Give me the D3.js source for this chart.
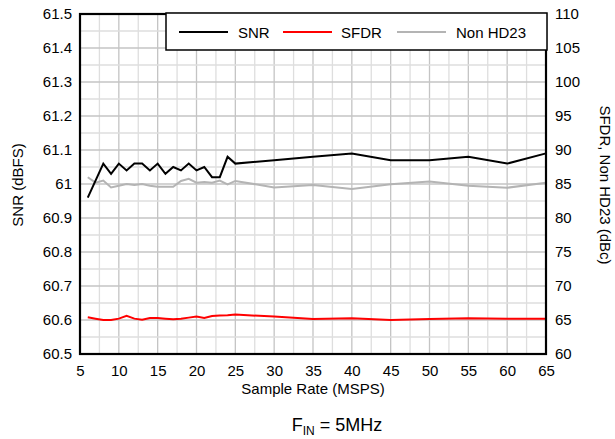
<!DOCTYPE html>
<html><head><meta charset="utf-8">
<script src="https://cdn.jsdelivr.net/npm/d3@7"></script>
<style>body{margin:0;background:#fff}svg{display:block}text{font-family:"Liberation Sans",Arial,sans-serif}</style>
</head><body><svg id="c" width="615" height="439"></svg>
<script>
const sampleRate = [6,7,8,9,10,11,12,13,14,15,16,17,18,19,20,21,22,23,24,25,30,35,40,45,50,55,60,65];
const snr = [60.96,61.01,61.06,61.03,61.06,61.04,61.06,61.06,61.04,61.06,61.03,61.05,61.04,61.06,61.04,61.05,61.02,61.02,61.08,61.06,61.07,61.08,61.09,61.07,61.07,61.08,61.06,61.09];
const sfdr = [65.4,65.2,65.0,65.0,65.2,65.6,65.2,65.05,65.3,65.3,65.2,65.1,65.2,65.35,65.5,65.3,65.6,65.65,65.7,65.8,65.5,65.15,65.25,65.0,65.15,65.25,65.2,65.2];
const nonHD23 = [86.0,85.2,85.5,84.5,84.75,85.0,84.85,85.0,84.75,84.6,84.6,84.6,85.45,85.75,85.2,85.3,85.2,85.5,84.95,85.45,84.5,84.85,84.25,84.95,85.35,84.75,84.45,85.2];
const xTicks = [5,10,15,20,25,30,35,40,45,50,55,60,65];
const leftTicks = [60.5,60.6,60.7,60.8,60.9,61,61.1,61.2,61.3,61.4,61.5];
const rightTicks = [60,65,70,75,80,85,90,95,100,105,110];
const seriesNames = ["SNR","SFDR","Non HD23"];
const seriesColors = ["#000000","#ff0000","#b4b4b4"];

const svg = d3.select("#c");
const L=80, R=546, T=14, B=354;
const x = d3.scaleLinear().domain([5,65]).range([L,R]);
const yL = d3.scaleLinear().domain([60.5,61.5]).range([B,T]);
const yR = d3.scaleLinear().domain([60,110]).range([B,T]);

// grid
const g = svg.append("g");
d3.range(5,65.01,2.5).forEach(v=>{
  const major = Math.abs(v/5-Math.round(v/5))<1e-6;
  g.append("line").attr("x1",x(v)).attr("x2",x(v)).attr("y1",T).attr("y2",B)
   .attr("stroke",major?"#c4c4c4":"#dedede").attr("stroke-width",1.3);
});
d3.range(0,21).forEach(i=>{
  const v=60.5+i*0.05;
  g.append("line").attr("x1",L).attr("x2",R).attr("y1",yL(v)).attr("y2",yL(v))
   .attr("stroke",i%2===0?"#c4c4c4":"#dedede").attr("stroke-width",1.3);
});

// lines
const data = sampleRate.map((s,i)=>({s, snr:snr[i], sfdr:sfdr[i], nh:nonHD23[i]}));
const line = (acc, sc)=>d3.line().x(d=>x(d.s)).y(d=>sc(acc(d)));
svg.append("path").datum(data).attr("d",line(d=>d.nh,yR)).attr("fill","none").attr("stroke",seriesColors[2]).attr("stroke-width",2);
svg.append("path").datum(data).attr("d",line(d=>d.sfdr,yR)).attr("fill","none").attr("stroke",seriesColors[1]).attr("stroke-width",2);
svg.append("path").datum(data).attr("d",line(d=>d.snr,yL)).attr("fill","none").attr("stroke",seriesColors[0]).attr("stroke-width",2);

// frame
svg.append("rect").attr("x",L).attr("y",T).attr("width",R-L).attr("height",B-T).attr("fill","none").attr("stroke","#000").attr("stroke-width",2.2);

// axes (labels only)
const ax = svg.append("g").attr("transform",`translate(0,${B})`).call(d3.axisBottom(x).tickValues(xTicks).tickSize(0).tickPadding(11).tickFormat(d3.format("d")));
const ayl = svg.append("g").attr("transform",`translate(${L},0)`).call(d3.axisLeft(yL).tickValues(leftTicks).tickSize(0).tickPadding(8).tickFormat(d=>d3.format("")(+d.toFixed(1))));
const ayr = svg.append("g").attr("transform",`translate(${R},0)`).call(d3.axisRight(yR).tickValues(rightTicks).tickSize(0).tickPadding(9).tickFormat(d3.format("d")));
[ax,ayl,ayr].forEach(a=>{a.select(".domain").remove();a.selectAll("text").attr("font-size",15).attr("fill","#000").attr("font-family","'Liberation Sans',Arial,sans-serif");});

// axis titles
svg.append("text").attr("x",313).attr("y",394).attr("text-anchor","middle").attr("font-size",15).text("Sample Rate (MSPS)");
svg.append("text").attr("transform","translate(23,185) rotate(-90)").attr("text-anchor","middle").attr("font-size",15).text("SNR (dBFS)");
svg.append("text").attr("transform","translate(600,185) rotate(90)").attr("text-anchor","middle").attr("font-size",15).text("SFDR, Non HD23 (dBc)");
const ft = svg.append("text").attr("x",337).attr("y",431).attr("text-anchor","middle").attr("font-size",18);
ft.append("tspan").text("F");
ft.append("tspan").attr("font-size",12).attr("dy",4).text("IN");
ft.append("tspan").attr("dy",-4).text(" = 5MHz");

// legend
const lg = svg.append("g");
lg.append("rect").attr("x",166).attr("y",13).attr("width",381).attr("height",37).attr("fill","#fff").attr("stroke","#000").attr("stroke-width",1.5);
const lx = [179,283,397], tx=[238,341,456];
seriesNames.forEach((n,i)=>{
  lg.append("line").attr("x1",lx[i]).attr("x2",lx[i]+49).attr("y1",32).attr("y2",32).attr("stroke",seriesColors[i]).attr("stroke-width",2);
  lg.append("text").attr("x",tx[i]).attr("y",37.5).attr("font-size",15).text(n);
});
</script></body></html>
